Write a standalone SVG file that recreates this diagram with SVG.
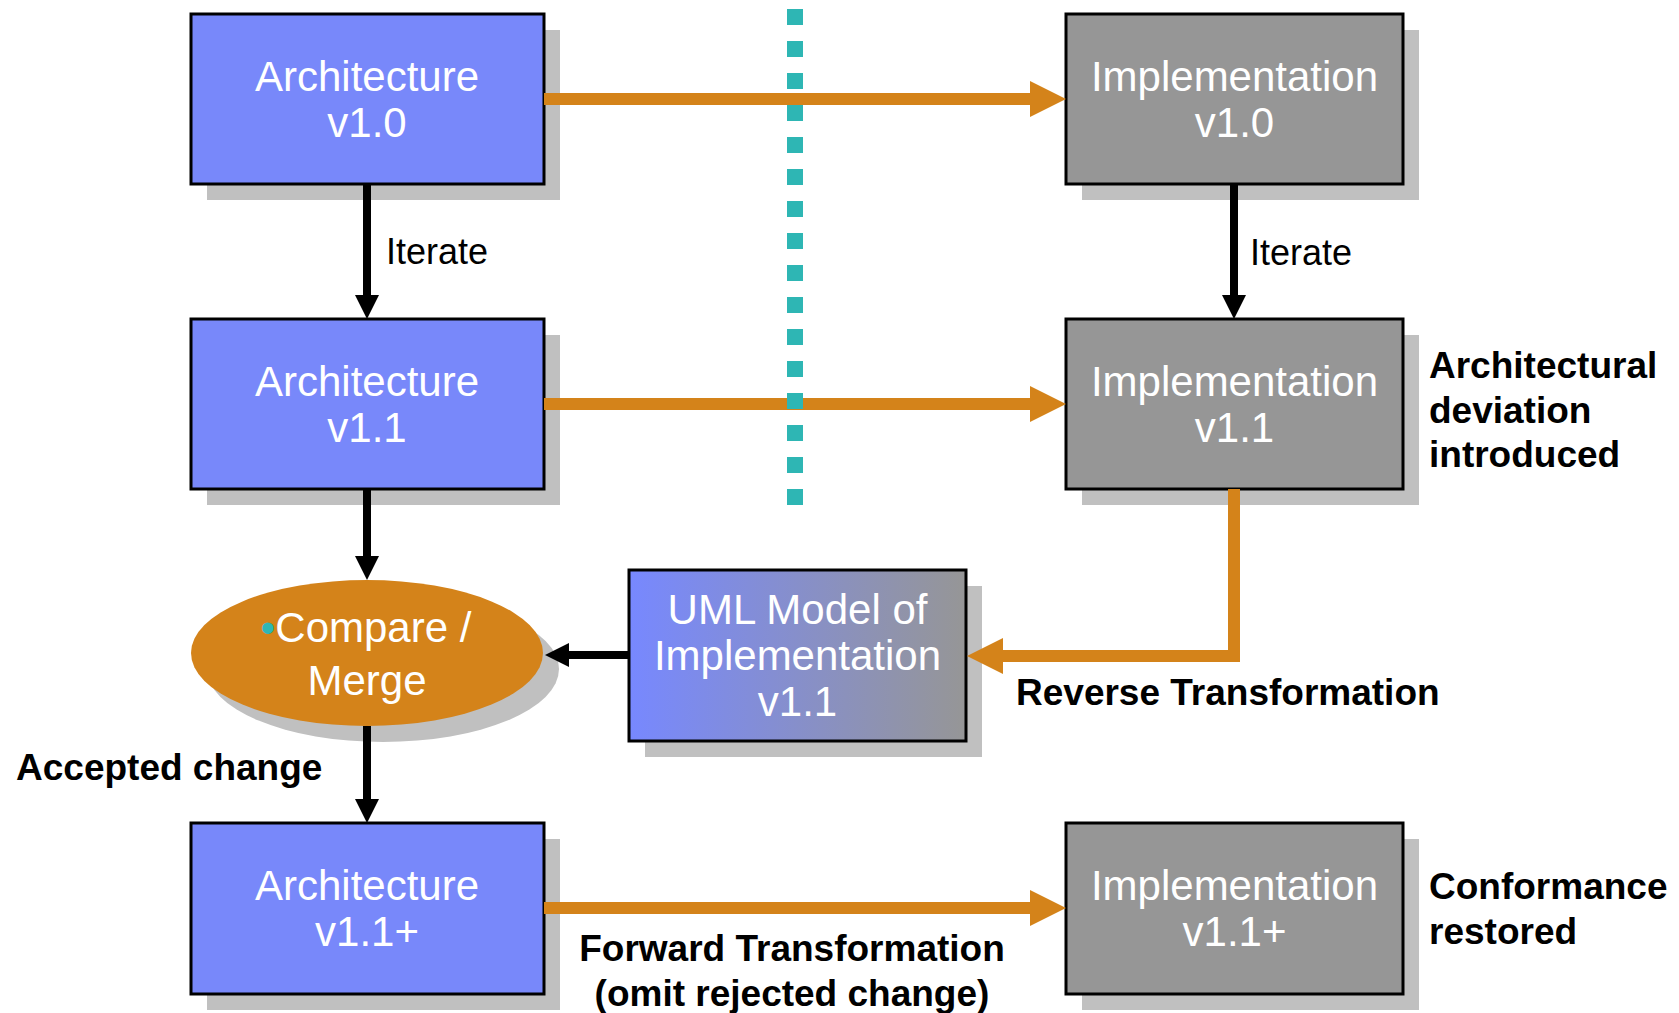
<svg xmlns="http://www.w3.org/2000/svg" width="1679" height="1013" viewBox="0 0 1679 1013">
  <style>
    .box{stroke:#000;stroke-width:3}
    .arch{fill:#7888FA}
    .impl{fill:#969696}
    .shadow{fill:#C0C0C0}
    .nt{font-family:"Liberation Sans",Arial,sans-serif;font-size:42px;fill:#fff;text-anchor:middle}
    .lb{font-family:"Liberation Sans",Arial,sans-serif;font-size:37px;font-weight:bold;fill:#000}
    .it{font-family:"Liberation Sans",Arial,sans-serif;font-size:36px;fill:#000}
    .or{fill:none;stroke:#D4831A;stroke-width:12}
    .bk{fill:none;stroke:#000;stroke-width:8}
  </style>
  <defs>
    <marker id="ao" markerUnits="userSpaceOnUse" markerWidth="36" markerHeight="36" refX="1" refY="18" orient="auto">
      <path d="M0,0 L36,18 L0,36 z" fill="#D4831A"/>
    </marker>
    <marker id="ab" markerUnits="userSpaceOnUse" markerWidth="24" markerHeight="24" refX="1" refY="12" orient="auto">
      <path d="M0,0 L24,12 L0,24 z" fill="#000"/>
    </marker>
    <linearGradient id="umlg" x1="0" y1="0" x2="1" y2="0">
      <stop offset="0" stop-color="#7788FF"/>
      <stop offset="1" stop-color="#969696"/>
    </linearGradient>
  </defs>
  <rect width="1679" height="1013" fill="#fff"/>

  <g id="arch10">
    <rect class="shadow" x="207" y="30" width="353" height="170"/>
    <rect class="box arch" x="191" y="14" width="353" height="170"/>
    <text class="nt" x="367" y="91">Architecture</text>
    <text class="nt" x="367" y="137">v1.0</text>
  </g>
  <g id="impl10">
    <rect class="shadow" x="1082" y="30" width="337" height="170"/>
    <rect class="box impl" x="1066" y="14" width="337" height="170"/>
    <text class="nt" x="1234.5" y="91">Implementation</text>
    <text class="nt" x="1234.5" y="137">v1.0</text>
  </g>
  <g id="arch11">
    <rect class="shadow" x="207" y="335" width="353" height="170"/>
    <rect class="box arch" x="191" y="319" width="353" height="170"/>
    <text class="nt" x="367" y="396">Architecture</text>
    <text class="nt" x="367" y="442">v1.1</text>
  </g>
  <g id="impl11">
    <rect class="shadow" x="1082" y="335" width="337" height="170"/>
    <rect class="box impl" x="1066" y="319" width="337" height="170"/>
    <text class="nt" x="1234.5" y="396">Implementation</text>
    <text class="nt" x="1234.5" y="442">v1.1</text>
  </g>
  <g id="compare">
    <ellipse class="shadow" cx="383" cy="669" rx="176" ry="73"/>
    <ellipse cx="367" cy="653" rx="176" ry="73" fill="#D4831A"/>
    <text class="nt" x="366" y="642"><tspan fill="#2EB6B4">•</tspan>Compare /</text>
    <text class="nt" x="367" y="695">Merge</text>
  </g>
  <g id="uml">
    <rect class="shadow" x="645" y="586" width="337" height="171"/>
    <rect class="box" fill="url(#umlg)" x="629" y="570" width="337" height="171"/>
    <text class="nt" x="797.5" y="624">UML Model of</text>
    <text class="nt" x="797.5" y="670">Implementation</text>
    <text class="nt" x="797.5" y="716">v1.1</text>
  </g>
  <g id="arch11p">
    <rect class="shadow" x="207" y="839" width="353" height="171"/>
    <rect class="box arch" x="191" y="823" width="353" height="171"/>
    <text class="nt" x="367" y="900">Architecture</text>
    <text class="nt" x="367" y="946">v1.1+</text>
  </g>
  <g id="impl11p">
    <rect class="shadow" x="1082" y="839" width="337" height="171"/>
    <rect class="box impl" x="1066" y="823" width="337" height="171"/>
    <text class="nt" x="1234.5" y="900">Implementation</text>
    <text class="nt" x="1234.5" y="946">v1.1+</text>
  </g>

  <g id="connectors">
    <path class="or" d="M544,99 H1031" marker-end="url(#ao)"/>
    <path class="or" d="M544,404 H1031" marker-end="url(#ao)"/>
    <path class="or" d="M544,908 H1031" marker-end="url(#ao)"/>
    <path class="or" d="M1234,489 V656 H1002" marker-end="url(#ao)"/>
    <path class="bk" d="M629,655 H568" marker-end="url(#ab)"/>
    <path class="bk" d="M367,184 V296" marker-end="url(#ab)"/>
    <path class="bk" d="M1234,184 V296" marker-end="url(#ab)"/>
    <path class="bk" d="M367,489 V557" marker-end="url(#ab)"/>
    <path class="bk" d="M367,726 V800" marker-end="url(#ab)"/>
  </g>

  <g id="divider">
    <line x1="795" y1="9" x2="795" y2="505" stroke="#2EB6B4" stroke-width="16" stroke-dasharray="16 16"/>
  </g>

  <g id="labels">
    <text class="it" x="386" y="264">Iterate</text>
    <text class="it" x="1250" y="265">Iterate</text>
    <text class="lb" x="1429" y="378">Architectural</text>
    <text class="lb" x="1429" y="423">deviation</text>
    <text class="lb" x="1429" y="467">introduced</text>
    <text class="lb" x="1016" y="705">Reverse Transformation</text>
    <text class="lb" x="16" y="780">Accepted change</text>
    <text class="lb" x="792" y="961" text-anchor="middle">Forward Transformation</text>
    <text class="lb" x="792" y="1006" text-anchor="middle">(omit rejected change)</text>
    <text class="lb" x="1429" y="899">Conformance</text>
    <text class="lb" x="1429" y="944">restored</text>
  </g>
</svg>
